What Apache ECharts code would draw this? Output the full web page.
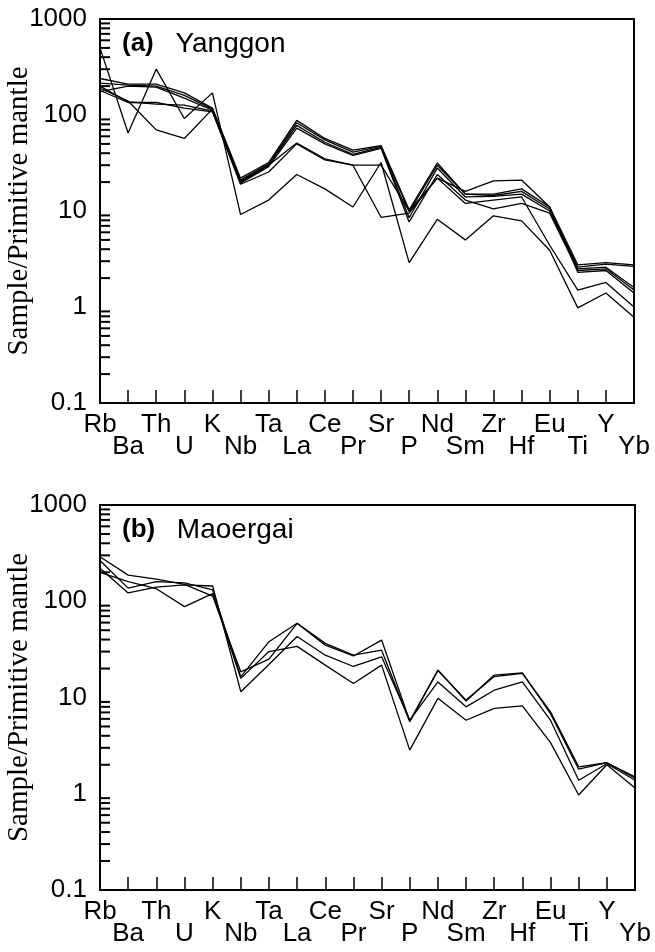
<!DOCTYPE html>
<html>
<head>
<meta charset="utf-8">
<script src="https://cdn.jsdelivr.net/npm/echarts@6/dist/echarts.min.js"></script>
<style>
html,body{margin:0;padding:0;background:#fff;}
#chart{width:655px;height:952px;}
</style>
</head>
<body>
<div id="chart"></div>
<script>
// element order on the x axis
var elements = ['Rb','Ba','Th','U','K','Nb','Ta','La','Ce','Pr','Sr','P','Nd','Sm','Zr','Hf','Eu','Ti','Y','Yb'];
var yTicks = [0.1, 1, 10, 100, 1000];
var minorTicks = [0.2,0.3,0.4,0.5,0.6,0.7,0.8,0.9, 2,3,4,5,6,7,8,9, 20,30,40,50,60,70,80,90, 200,300,400,500,600,700,800,900];

// (a) Yanggon samples
var yg1 = [500, 65, 300, 92, 170, 9.2, 13, 24, 17, 11, 32, 2.9, 8.2, 5, 8.9, 7.9, 3.9, 0.98, 1.4, 0.78];
var yg2 = [190, 140, 70, 57, 115, 20, 30, 51, 35, 30, 8.6, 9.5, 22, 12, 13, 14, 4.4, 1.5, 1.8, 1.0];
var yg3 = [240, 210, 210, 170, 118, 22, 32, 88, 57, 43, 48, 10.3, 31.6, 15, 15, 17, 11, 2.75, 2.9, 2.75];
var yg4 = [215, 205, 200, 160, 115, 21, 31, 83, 55, 41, 47, 9.8, 30, 15, 14.5, 16, 10.5, 2.6, 2.8, 2.65];
var yg5 = [175, 200, 195, 150, 112, 20.5, 30, 78, 52, 39, 46, 8.5, 28, 14, 14.2, 15, 10, 2.5, 2.6, 1.6];
var yg6 = [200, 137, 130, 127, 110, 19.5, 29, 73, 50, 38, 45, 7.7, 24, 13, 10.5, 12, 9.5, 2.4, 2.5, 1.5];
var yg7 = [180, 135, 135, 118, 108, 19, 25.5, 50, 34, 30, 30, 10, 22, 16, 20.6, 21, 11, 2.3, 2.4, 1.4];

// (b) Maoergai samples
var mg1 = [200, 160, 135, 88, 120, 15.8, 30, 34, 21.7, 14, 21.7, 2.84, 9.8, 5.8, 7.7, 8.2, 3.4, 0.97, 2.0, 1.15];
var mg2 = [220, 122, 140, 148, 144, 11.5, 22, 43, 27.5, 21, 26.5, 5.8, 14.5, 8, 11.9, 14.5, 5.8, 1.38, 2.05, 1.38];
var mg3 = [265, 137, 160, 155, 131, 16.4, 38, 59, 36.5, 27.5, 31, 5.6, 19, 9.4, 16.5, 17.8, 7.1, 1.9, 2.1, 1.45];
var mg4 = [290, 187, 170, 150, 113, 18.5, 25, 59, 35, 27, 39.5, 5.7, 19.3, 9.2, 17.1, 18, 6.8, 1.8, 2.1, 1.5];

var panelA = [yg1, yg2, yg3, yg4, yg5, yg6, yg7];
var panelB = [mg1, mg2, mg3, mg4];

var sans = 'Liberation Sans, Arial, sans-serif';
var serif = 'Liberation Serif, Times New Roman, serif';

var myChart = echarts.init(document.getElementById('chart'));

function xAxisCfg(gi) {
    return {
        type: 'category', gridIndex: gi, data: elements, boundaryGap: false,
        axisLine: {lineStyle: {color: '#000', width: 2}},
        axisTick: {inside: true, length: 13, interval: 0, lineStyle: {color: '#000', width: 1.5}},
        axisLabel: {
            interval: 0, margin: 11, color: '#000', fontSize: 26, fontFamily: sans, lineHeight: 22,
            formatter: function (v, i) { return i % 2 ? '\n' + v : v; }
        },
        splitLine: {show: false}
    };
}

function yAxisCfg(gi) {
    return {
        type: 'log', gridIndex: gi, min: yTicks[0], max: yTicks[yTicks.length - 1], logBase: 10,
        axisLine: {show: true, lineStyle: {color: '#000', width: 2}},
        axisTick: {inside: true, length: 15, lineStyle: {color: '#000', width: 2}},
        axisLabel: {
            margin: 13, color: '#000', fontSize: 26, fontFamily: sans,
            formatter: function (v) { return String(parseFloat(Number(v).toPrecision(6))); }
        },
        splitLine: {show: false},
        name: 'Sample/Primitive mantle', nameLocation: 'middle', nameGap: 66, nameMoveOverlap: false,
        nameTextStyle: {fontFamily: serif, fontSize: 29, color: '#000'}
    };
}

function minorTickSeries(gi) {
    return {
        type: 'custom', xAxisIndex: gi, yAxisIndex: gi, silent: true, z: 5,
        data: minorTicks.map(function (v) { return [0, v]; }),
        renderItem: function (params, api) {
            var p = api.coord([api.value(0), api.value(1)]);
            return {type: 'line', shape: {x1: p[0], y1: p[1], x2: p[0] + 10, y2: p[1]},
                    style: {stroke: '#000', lineWidth: 2}};
        }
    };
}

var series = [];
panelA.forEach(function (d) {
    series.push({type: 'line', xAxisIndex: 0, yAxisIndex: 0, data: d, symbol: 'none', silent: true,
        lineStyle: {color: '#000', width: 1.3}});
});
panelB.forEach(function (d) {
    series.push({type: 'line', xAxisIndex: 1, yAxisIndex: 1, data: d, symbol: 'none', silent: true,
        lineStyle: {color: '#000', width: 1.3}});
});
series.push(minorTickSeries(0));
series.push(minorTickSeries(1));

function titleCfg(tag, name, top) {
    return {
        text: '{b|' + tag + '}   {r|' + name + '}', left: 122, top: top, padding: 0,
        textStyle: {
            fontSize: 26, fontFamily: sans, color: '#000', fontWeight: 'normal',
            rich: {
                b: {fontSize: 26, fontWeight: 'bold', fontFamily: sans, color: '#000'},
                r: {fontSize: 28, fontWeight: 'normal', fontFamily: sans, color: '#000'}
            }
        }
    };
}

option = {
    backgroundColor: '#fff',
    animation: false,
    title: [titleCfg('(a)', 'Yanggon', 30), titleCfg('(b)', 'Maoergai', 516)],
    grid: [
        {left: 100, top: 19, width: 534, height: 384, containLabel: false, outerBoundsMode: 'none',
         show: true, borderColor: '#000', borderWidth: 2},
        {left: 100, top: 505, width: 535, height: 385, containLabel: false, outerBoundsMode: 'none',
         show: true, borderColor: '#000', borderWidth: 2}
    ],
    xAxis: [xAxisCfg(0), xAxisCfg(1)],
    yAxis: [yAxisCfg(0), yAxisCfg(1)],
    series: series
};

myChart.setOption(option);
</script>
</body>
</html>
